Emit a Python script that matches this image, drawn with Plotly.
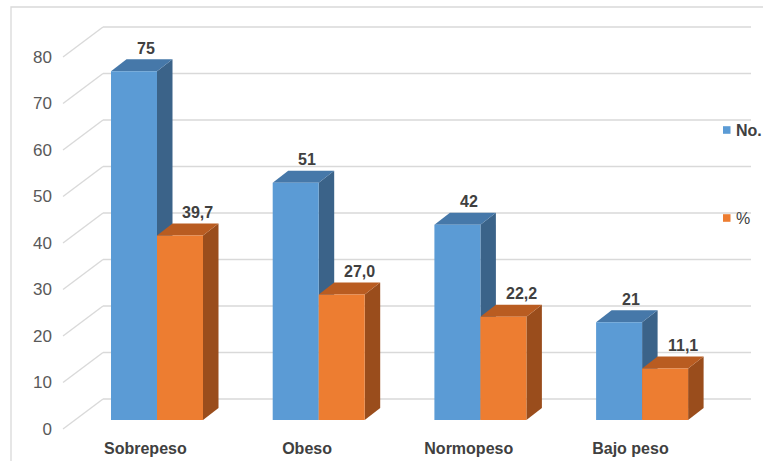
import plotly.graph_objects as go

# Estado nutricional: casos (No.) y porcentaje (%)
categorias = ["Sobrepeso", "Obeso", "Normopeso", "Bajo peso"]
casos = [75, 51, 42, 21]
porcentaje = [39.7, 27.0, 22.2, 11.1]
ticks_y = [0, 10, 20, 30, 40, 50, 60, 70, 80]
series = ["No.", "%"]

AZUL = "#5B9BD5"
AZUL_TOP = "#4678A9"
AZUL_LADO = "#3B6389"
NARANJA = "#ED7D31"
NARANJA_TOP = "#B95C21"
NARANJA_LADO = "#9A4D1C"
GRID = "#D9D9D9"
FONT = "Liberation Sans, Arial, sans-serif"

W, H = 763, 461
# pixel <-> data scales
PX_PER_UNIT_Y = 4.65
BASE_PX = 420.0
PX_PER_CAT = 161.7
CAT0_PX = 157.0
y_range = [-(H - BASE_PX) / PX_PER_UNIT_Y, BASE_PX / PX_PER_UNIT_Y]
x_range = [-CAT0_PX / PX_PER_CAT, (W - CAT0_PX) / PX_PER_CAT]

BAR_W = 46.0 / PX_PER_CAT          # width of each bar front face
DEPTH_X = 15.5 / PX_PER_CAT        # oblique depth of the bars
DEPTH_Y = 12.0 / PX_PER_UNIT_Y
WALL_DX = 40.0 / PX_PER_CAT        # floor depth from front edge to back wall
WALL_DY_BACK = 21.0 / PX_PER_UNIT_Y
WALL_DY_FRONT = -9.0 / PX_PER_UNIT_Y
FRONT_X = (63.0 - CAT0_PX) / PX_PER_CAT
BACK_X = FRONT_X + WALL_DX
GRID_END_X = (751.0 - CAT0_PX) / PX_PER_CAT

xs = list(range(len(categorias)))

fig = go.Figure()

shapes = []
# back wall gridlines and oblique side lines
for t in ticks_y:
    shapes.append(dict(type="line", xref="x", yref="y", layer="below",
                       x0=BACK_X, x1=GRID_END_X,
                       y0=t + WALL_DY_BACK, y1=t + WALL_DY_BACK,
                       line=dict(color=GRID, width=1.3)))
    shapes.append(dict(type="line", xref="x", yref="y", layer="below",
                       x0=FRONT_X, x1=BACK_X,
                       y0=t + WALL_DY_FRONT, y1=t + WALL_DY_BACK,
                       line=dict(color=GRID, width=1.3)))


def caras(x_left, v, top_color, side_color):
    x_right = x_left + BAR_W
    lado = (f"M {x_right},0 L {x_right + DEPTH_X},{DEPTH_Y} "
            f"L {x_right + DEPTH_X},{v + DEPTH_Y} L {x_right},{v} Z")
    tapa = (f"M {x_left},{v} L {x_right},{v} L {x_right + DEPTH_X},{v + DEPTH_Y} "
            f"L {x_left + DEPTH_X},{v + DEPTH_Y} Z")
    return [
        dict(type="path", xref="x", yref="y", layer="below", path=lado,
             fillcolor=side_color, line=dict(width=0)),
        dict(type="path", xref="x", yref="y", layer="below", path=tapa,
             fillcolor=top_color, line=dict(width=0)),
    ]


for x, vc, vp in zip(xs, casos, porcentaje):
    shapes += caras(x - BAR_W, vc, AZUL_TOP, AZUL_LADO)
    shapes += caras(x, vp, NARANJA_TOP, NARANJA_LADO)

# frame around the chart
shapes.append(dict(type="rect", xref="paper", yref="paper",
                   x0=11.0 / W, x1=1.02, y0=-0.02, y1=1 - 7.0 / H,
                   line=dict(color=GRID, width=1.3), layer="below"))

fig.add_trace(go.Bar(x=xs, y=casos, width=BAR_W, offset=-BAR_W, name=series[0],
                     marker=dict(color=AZUL, line=dict(width=0)),
                     showlegend=False, hoverinfo="skip"))
fig.add_trace(go.Bar(x=xs, y=porcentaje, width=BAR_W, offset=0, name=series[1],
                     marker=dict(color=NARANJA, line=dict(width=0)),
                     showlegend=False, hoverinfo="skip"))


def fmt(v):
    return f"{v:.1f}".replace(".", ",")


annotations = []
for x, vc, vp in zip(xs, casos, porcentaje):
    annotations.append(dict(x=x - BAR_W / 2 + DEPTH_X / 2, y=vc + DEPTH_Y,
                            xref="x", yref="y", text=str(vc), showarrow=False,
                            yanchor="middle", yshift=11, xshift=4,
                            font=dict(family=FONT, size=16, color="#404040",
                                      weight="bold")))
    annotations.append(dict(x=x + BAR_W / 2 + DEPTH_X / 2, y=vp + DEPTH_Y,
                            xref="x", yref="y", text=fmt(vp), showarrow=False,
                            yanchor="middle", yshift=11, xshift=10,
                            font=dict(family=FONT, size=16, color="#404040",
                                      weight="bold")))

# legend: colour key squares with their series names
leyenda = [(series[0], AZUL, 130.0, "bold"), (series[1], NARANJA, 218.0, "normal")]
for nombre, color, ypx, peso in leyenda:
    shapes.append(dict(type="rect", xref="paper", yref="paper",
                       x0=723.0 / W, x1=730.5 / W,
                       y0=1 - (ypx + 3.8) / H, y1=1 - (ypx - 3.8) / H,
                       fillcolor=color, line=dict(width=0)))
    annotations.append(dict(x=734.0 / W, y=1 - ypx / H, xref="paper",
                            yref="paper", text=nombre, showarrow=False,
                            xanchor="left", yanchor="middle",
                            font=dict(family=FONT, size=16, color="#404040",
                                      weight=peso)))

fig.update_layout(
    width=W, height=H,
    margin=dict(l=0, r=0, t=0, b=0),
    paper_bgcolor="white", plot_bgcolor="white",
    barmode="overlay",
    showlegend=False,
    shapes=shapes,
    annotations=annotations,
    xaxis=dict(range=x_range, tickmode="array",
               tickvals=[x - 0.072 for x in xs], ticktext=categorias,
               showgrid=False, zeroline=False, showline=False, ticks="",
               anchor="free", position=(H - 437.0) / H,
               tickfont=dict(family=FONT, size=16, color="#404040",
                             weight="bold")),
    yaxis=dict(range=y_range, tickmode="array",
               tickvals=[t + WALL_DY_FRONT for t in ticks_y],
               ticktext=[str(t) for t in ticks_y],
               showgrid=False, zeroline=False, showline=False, ticks="",
               anchor="free", position=52.0 / W,
               tickfont=dict(family=FONT, size=17, color="#595959")),
)

fig.write_html("out.html")
